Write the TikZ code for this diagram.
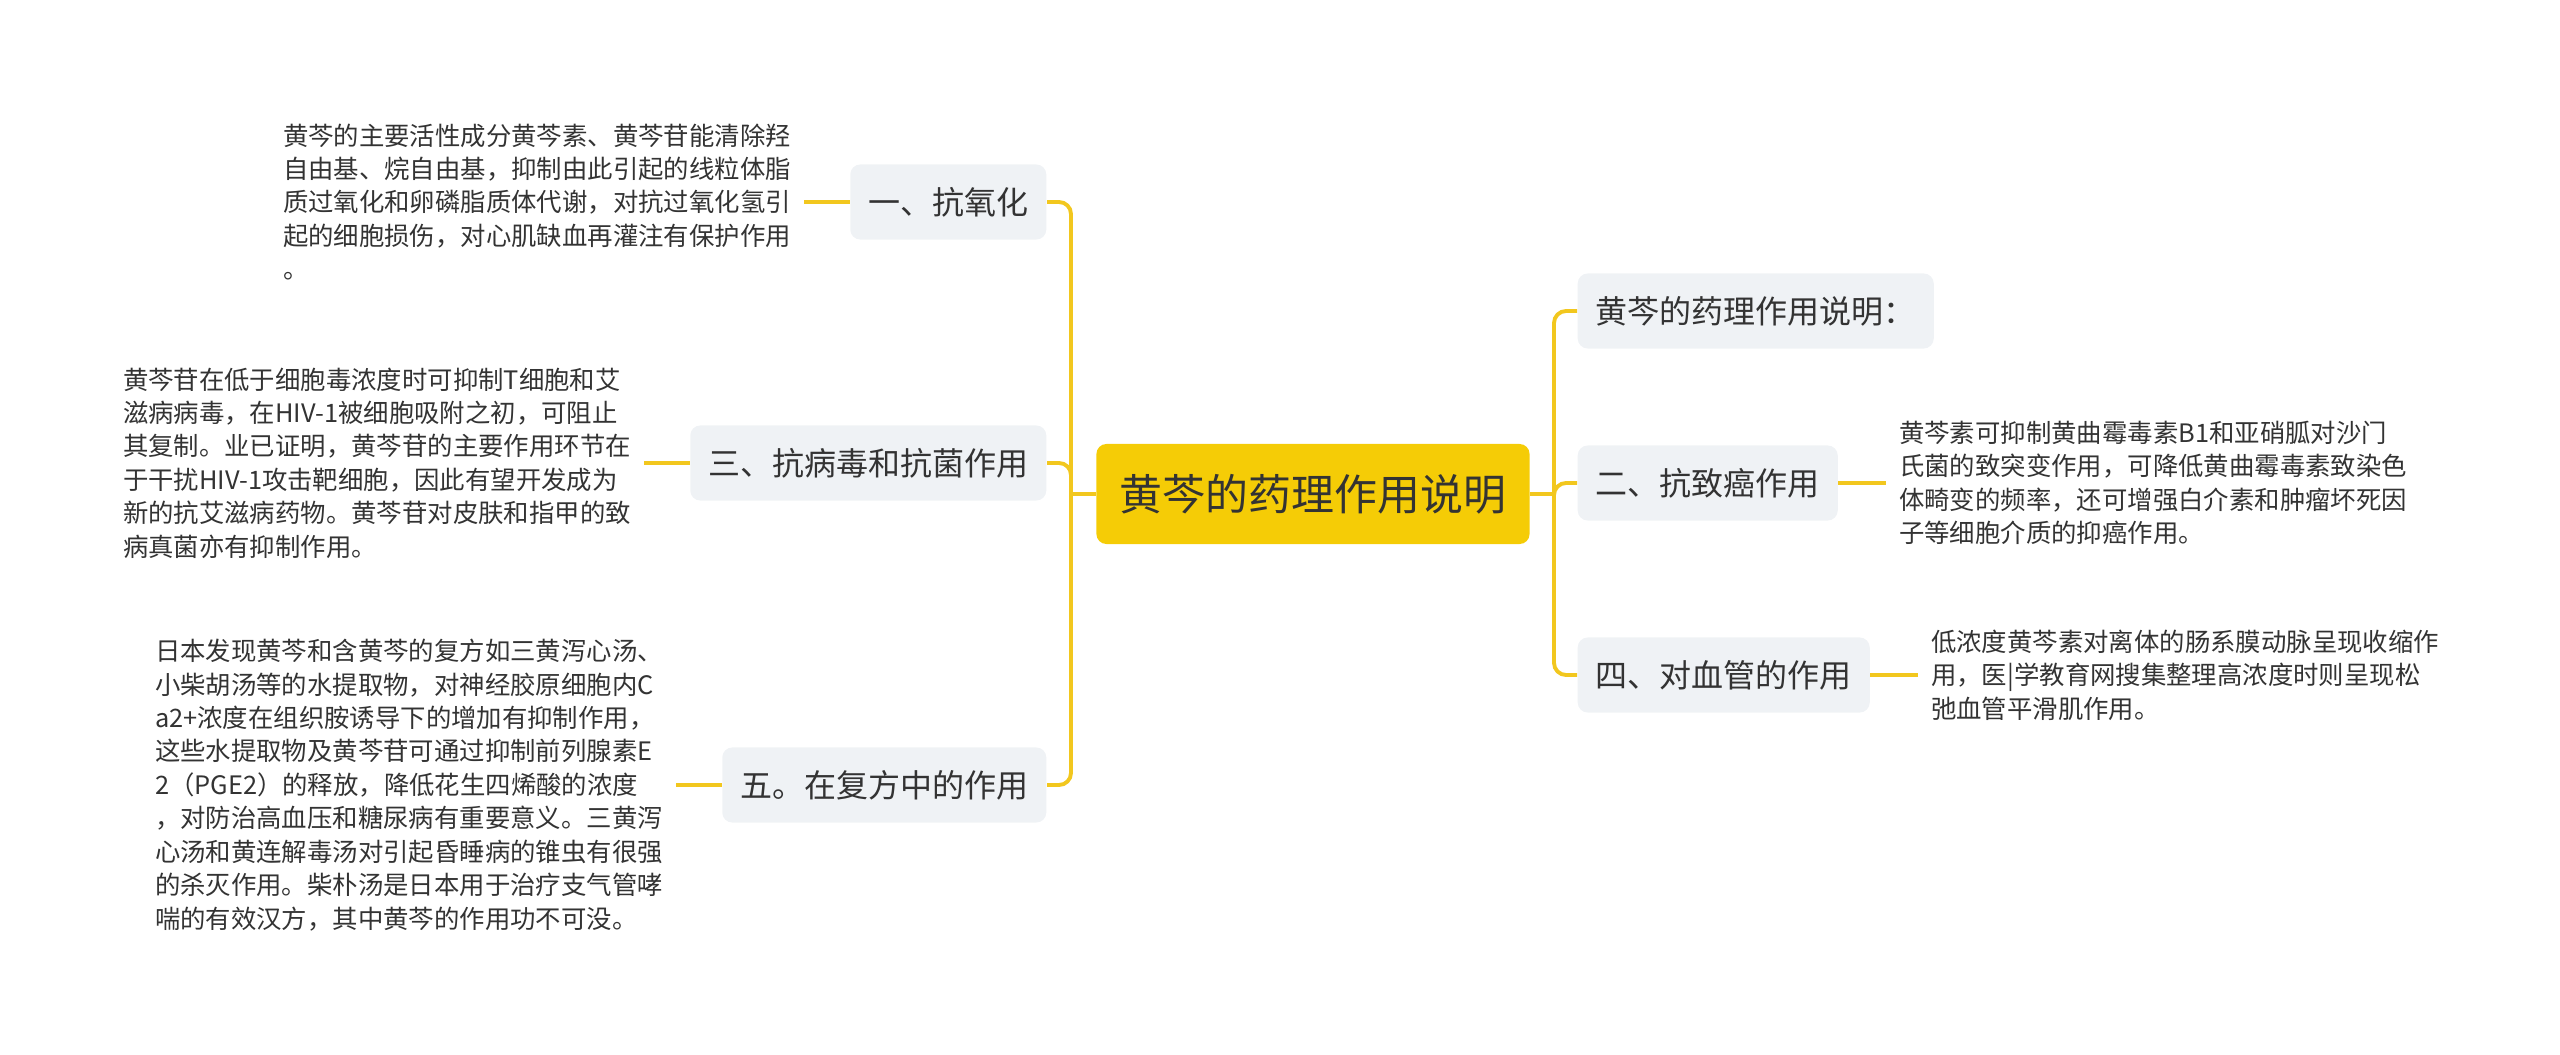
\documentclass[tikz,border=0pt]{standalone}
\usepackage{fontspec}
\setmainfont{Noto Sans CJK SC}
\usetikzlibrary{positioning}
\definecolor{gold}{RGB}{245, 204, 6}
\definecolor{branch}{RGB}{242, 199, 30}
\definecolor{boxbg}{RGB}{239, 242, 245}
\definecolor{ink}{RGB}{51, 51, 51}

\begin{document}
\begin{tikzpicture}[x=0.01cm, y=-0.01cm,
  root/.style={fill=gold, rounded corners=0.1cm, minimum height=1cm, inner xsep=0.235cm, text=ink, font=\fontsize{12.2}{14}\selectfont},
  topic/.style={fill=boxbg, rounded corners=0.1cm, minimum height=0.75cm, inner xsep=0.18cm, text=ink, font=\fontsize{9.1}{11}\selectfont},
  leaf/.style={align=left, inner xsep=0.12cm, inner ysep=0pt, text=ink, font=\fontsize{7.22}{9.5}\selectfont},
  link/.style={draw=branch, line width=1.1pt, rounded corners=0.12cm}]

  \useasboundingbox (0, 0) rectangle (2560, 1055);

  \node[root] (root) at (1313, 494) {黄芩的药理作用说明};
  \coordinate (lj) at (1071, 494);
  \coordinate (rj) at (1554, 494);

  % left side
  \node[topic, anchor=east] (anti1) at (1047, 202) {一、抗氧化};
  \node[topic, anchor=east] (anti3) at (1047, 463) {三、抗病毒和抗菌作用};
  \node[topic, anchor=east] (anti5) at (1047, 785) {五。在复方中的作用};

  \node[leaf, left=0.46cm of anti1] (txt1) {黄芩的主要活性成分黄芩素、黄芩苷能清除羟\\
    自由基、烷自由基，抑制由此引起的线粒体脂\\
    质过氧化和卵磷脂质体代谢，对抗过氧化氢引\\
    起的细胞损伤，对心肌缺血再灌注有保护作用\\
    。};
  \node[leaf, left=0.46cm of anti3] (txt3) {黄芩苷在低于细胞毒浓度时可抑制T细胞和艾\\
    滋病病毒，在HIV-1被细胞吸附之初，可阻止\\
    其复制。业已证明，黄芩苷的主要作用环节在\\
    于干扰HIV-1攻击靶细胞，因此有望开发成为\\
    新的抗艾滋病药物。黄芩苷对皮肤和指甲的致\\
    病真菌亦有抑制作用。};
  \node[leaf, left=0.46cm of anti5] (txt5) {日本发现黄芩和含黄芩的复方如三黄泻心汤、\\
    小柴胡汤等的水提取物，对神经胶原细胞内C\\
    a2+浓度在组织胺诱导下的增加有抑制作用，\\
    这些水提取物及黄芩苷可通过抑制前列腺素E\\
    2（PGE2）的释放，降低花生四烯酸的浓度\\
    ，对防治高血压和糖尿病有重要意义。三黄泻\\
    心汤和黄连解毒汤对引起昏睡病的锥虫有很强\\
    的杀灭作用。柴朴汤是日本用于治疗支气管哮\\
    喘的有效汉方，其中黄芩的作用功不可没。};

  % right side
  \node[topic, anchor=west] (intro) at (1577, 311) {黄芩的药理作用说明：};
  \node[topic, anchor=west] (anti2) at (1577, 483) {二、抗致癌作用};
  \node[topic, anchor=west] (anti4) at (1577, 675) {四、对血管的作用};

  \node[leaf, right=0.48cm of anti2] (txt2) {黄芩素可抑制黄曲霉毒素B1和亚硝胍对沙门\\
    氏菌的致突变作用，可降低黄曲霉毒素致染色\\
    体畸变的频率，还可增强白介素和肿瘤坏死因\\
    子等细胞介质的抑癌作用。};
  \node[leaf, right=0.48cm of anti4] (txt4) {低浓度黄芩素对离体的肠系膜动脉呈现收缩作\\
    用，医|学教育网搜集整理高浓度时则呈现松\\
    弛血管平滑肌作用。};

  \draw[link] (root.west) -- (lj);
  \draw[link] (root.east) -- (rj);
  \foreach \b in {anti1, anti3, anti5}
    \draw[link] (lj) |- (\b.east);
  \foreach \b in {intro, anti2, anti4}
    \draw[link] (rj) |- (\b.west);

  \draw[link] (anti1.west) -- (txt1.east);
  \draw[link] (anti3.west) -- (txt3.east);
  \draw[link] (anti5.west) -- (txt5.east);
  \draw[link] (anti2.east) -- (txt2.west);
  \draw[link] (anti4.east) -- (txt4.west);

\end{tikzpicture}
\end{document}
